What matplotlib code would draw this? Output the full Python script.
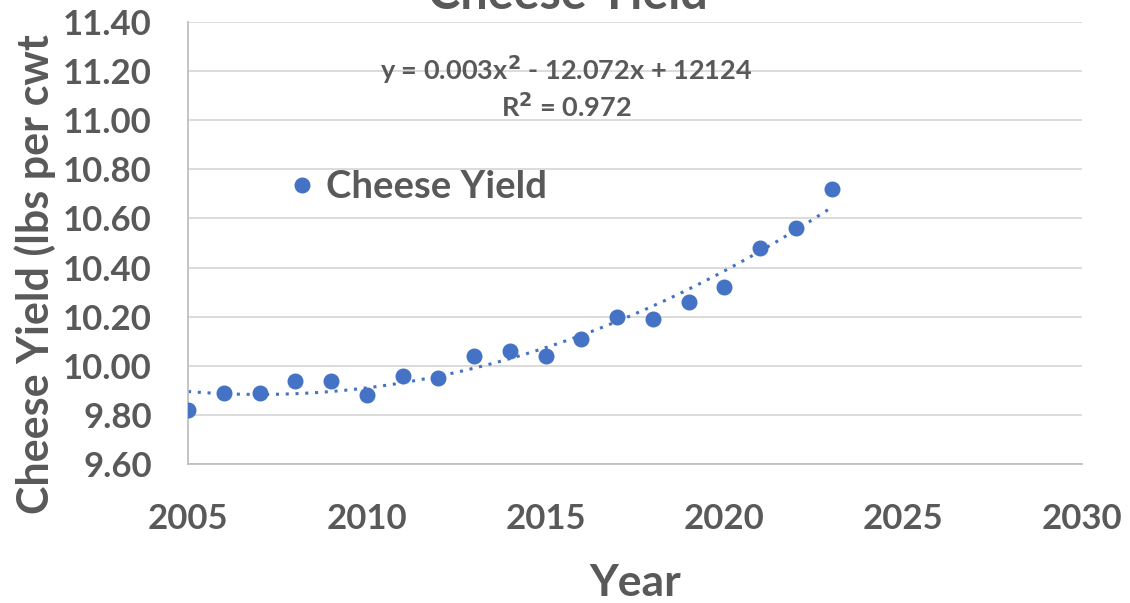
import matplotlib
matplotlib.use("Agg")
import matplotlib.pyplot as plt
import matplotlib.ticker as ticker
import numpy as np

years = [2005, 2006, 2007, 2008, 2009, 2010, 2011, 2012, 2013, 2014,
         2015, 2016, 2017, 2018, 2019, 2020, 2021, 2022, 2023]
yield_lbs = [9.82, 9.89, 9.89, 9.94, 9.94, 9.88, 9.96, 9.95, 10.04, 10.06,
             10.04, 10.11, 10.20, 10.19, 10.26, 10.32, 10.48, 10.56, 10.72]

blue = "#4472C4"
grey = "#595959"
plt.rcParams["font.family"] = ["Lato", "DejaVu Sans"]
plt.rcParams["font.weight"] = "bold"
plt.rcParams["axes.labelweight"] = "bold"
plt.rcParams["mathtext.default"] = "bf"

fig = plt.figure(figsize=(11.3, 6.03), dpi=100)
ax = fig.add_axes([0.1664, 0.2305, 0.7911, 0.733])

x = np.array(years, dtype=float)
y = np.array(yield_lbs)
ax.plot(x, y, "o", color=blue, markersize=10.5, label="Cheese Yield", zorder=3)

# quadratic trendline
coef = np.polyfit(x, y, 2)
xs = np.linspace(x.min(), x.max(), 200)
ax.plot(xs, np.polyval(coef, xs), linestyle=(0, (1, 2.2)), color=blue,
        linewidth=2.2, zorder=2)

ax.set_xlim(2005, 2030)
ax.set_ylim(9.6, 11.4)
ax.xaxis.set_major_locator(ticker.MultipleLocator(5))
ax.yaxis.set_major_locator(ticker.MultipleLocator(0.2))
ax.yaxis.set_major_formatter(ticker.FormatStrFormatter("%.2f"))
ax.grid(axis="y", color="#D9D9D9", linewidth=1.3)
ax.set_axisbelow(True)
for s in ["top", "right"]:
    ax.spines[s].set_visible(False)
for s in ["left", "bottom"]:
    ax.spines[s].set_color("#BFBFBF")
    ax.spines[s].set_linewidth(1.3)
ax.tick_params(length=0, colors=grey, labelsize=25)
ax.tick_params(axis="x", pad=28)
ax.tick_params(axis="y", pad=26)

ax.set_xlabel("Year", fontsize=32, color=grey, labelpad=20)
ax.set_ylabel("Cheese Yield (lbs per cwt", fontsize=31, color=grey)
ax.yaxis.set_label_coords(-0.148, 0.43)

fig.text(0.503, 0.972, "Cheese Yield", ha="center", va="bottom",
         fontsize=35, color=grey)
ax.text(0.423, 0.893, "y = 0.003x$^{2}$ - 12.072x + 12124", transform=ax.transAxes,
        ha="center", va="center", fontsize=19.5, color=grey)
ax.text(0.423, 0.808, "R$^{2}$ = 0.972", transform=ax.transAxes,
        ha="center", va="center", fontsize=19.5, color=grey)

ax.legend(loc="upper left", bbox_to_anchor=(0.086, 0.7), frameon=False,
          fontsize=27.5, labelcolor=grey, handletextpad=0.05, borderaxespad=0,
          handlelength=1.15)

fig.savefig("out.png", dpi=100)
